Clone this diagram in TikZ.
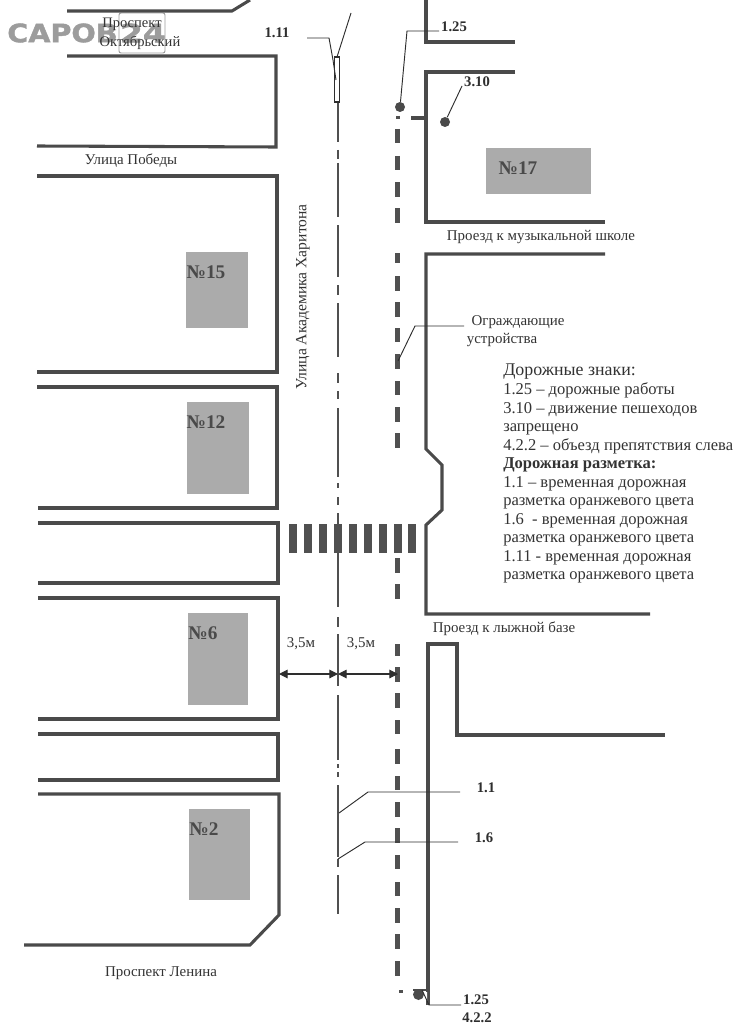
\documentclass[tikz,border=0pt]{standalone}
\usepackage{fontspec}
\setmainfont{Liberation Serif}
\newfontfamily\wmfont[BoldFeatures={FakeBold=1.6}]{DejaVu Sans}
\usetikzlibrary{arrows.meta}
\definecolor{wallc}{HTML}{4A4A4A}
\definecolor{inkc}{HTML}{2E2E2E}
\definecolor{textc}{HTML}{333333}
\definecolor{housec}{HTML}{ABABAB}
\definecolor{dashc}{HTML}{505050}
\definecolor{wmc}{HTML}{9C9C9C}
\tikzset{
  wall/.style={draw=wallc,line width=2.3pt,line join=miter},
  fence/.style={draw=dashc,line width=3.1pt},
  cline/.style={draw=dashc,line width=0.9pt},
  cdash/.style={draw=dashc,line width=1.9pt},
  leader/.style={draw=inkc,line width=0.7pt},
  zebra/.style={fill=dashc,draw=none},
  house/.style={fill=housec,draw=none},
  hlabel/.style={font=\bfseries\fontsize{14.5}{16}\selectfont,text=wallc,inner sep=0pt},
  smalltxt/.style={font=\fontsize{11.2}{13}\selectfont,text=textc,inner sep=0pt,yshift=-1.1pt},
  tag/.style={font=\bfseries\fontsize{11}{12}\selectfont,text=inkc,inner sep=0pt},
  signdot/.style={fill=wallc,draw=none,circle,minimum size=7.5pt,inner sep=0pt},
  dim/.style={draw=inkc,line width=0.8pt,{Triangle[length=6.5pt,width=6.5pt]}-{Triangle[length=6.5pt,width=6.5pt]}}
}
\begin{document}
\begin{tikzpicture}[x=0.75pt,y=-0.75pt]
\useasboundingbox (0,0) rectangle (746,1027);
\fill[white] (0,0) rectangle (746,1027);
% watermark
\node[inner sep=0pt,text=wmc,anchor=west,font=\wmfont\bfseries\fontsize{19}{20}\selectfont,xscale=1.13] (wm) at (7,33) {CAPOB};
\node[inner sep=0pt,text=wmc,anchor=center,font=\wmfont\bfseries\fontsize{19}{20}\selectfont,xscale=1.3] (wmn) at (143,33) {24};
\draw[wmc,line width=0.7pt,rounded corners=1.5pt] (119,13) rectangle (165,53);
% houses
\fill[house] (486,148) rectangle (591,194);
\fill[house] (186,252) rectangle (248,328);
\fill[house] (187,402) rectangle (249,494);
\fill[house] (188,613) rectangle (248,705);
\fill[house] (189,809) rectangle (250,900);
\node[hlabel] (h17) at (518,168) {№17};
\node[hlabel] (h15) at (206,272) {№15};
\node[hlabel] (h12) at (206,422) {№12};
\node[hlabel] (h6) at (203,633) {№6};
\node[hlabel] (h2) at (204,829) {№2};
% left walls
\draw[wall] (67,11) -- (232,11) -- (250,0);
\draw[wall] (67,56) -- (276,56) -- (276,147) -- (37,146);
\draw[wall] (37,176) -- (277,176) -- (277,372) -- (37,372);
\draw[wall] (37,387) -- (277,387) -- (277,508) -- (38,508);
\draw[wall] (38,523) -- (278,523) -- (278,583) -- (38,583);
\draw[wall] (38,598) -- (278,598) -- (278,719) -- (38,719);
\draw[wall] (38,734) -- (278,734) -- (278,780) -- (38,780);
\draw[wall] (38,794) -- (279,794) -- (279,915) -- (250,945) -- (24,945);
% right walls
\draw[wall] (426,0) -- (426,42) -- (515,42);
\draw[wall] (515,72) -- (426,72) -- (426,222) -- (605,222);
\draw[wall] (411,118) -- (426,118);
\draw[wall] (605,254) -- (426,254) -- (426,449) -- (442,465) -- (442,510) -- (426,525) -- (426,614) -- (650,614);
\draw[wall] (428,1005) -- (428,644) -- (457,644) -- (457,735) -- (665,735);
% centre line
\foreach \a/\b in {102/142,163/217,225/277,303/357,408/477,513/607,634/677,695/760,785/857,875/914}
  \draw[cline] (338,\a) -- (338,\b);
\foreach \a/\b in {150/159,225/235,285/295,373/383,391/399,483/488,497/505,513/520,617/627,677/686,695/708,764/768,772/777,859/867,875/883}
  \draw[cdash] (338,\a) -- (338,\b);
\draw[draw=inkc,line width=0.8pt,fill=white] (334.5,57) rectangle (339.5,102);
% fence dashes
\foreach \a/\b in {129/143,156/170,182/197,208/223,253/263,276/291,302/317,328/342,354/369,381/395,407/422,433/448,558/573,584/599,644/656,667/682,693/708,720/734,749/764,776/790,802/817,828/843,855/869,882/896,908/923,934/949,961/976}
  \draw[fence] (397.5,\a) -- (397.5,\b);
\draw[fence] (398,116) -- (398,119);
\draw[fence] (401,990) -- (401,993);
% crosswalk
\foreach \x in {289,304,319,334,349,364,379,394,408}
  \fill[zebra] (\x,524) rectangle (\x+8,553);
% dimensions
\coordinate (dl) at (279,674);
\coordinate (dc) at (338,674);
\coordinate (dr) at (398,674);
\draw[dim] (dl) -- (dc);
\draw[dim] (dc) -- (dr);
\node[smalltxt] (d1) at (301,642) {3,5м};
\node[smalltxt] (d2) at (361,642) {3,5м};
% signs
\node[signdot] (s125) at (400,107) {};
\node[signdot] (s310) at (445,122) {};
\node[tag] (t125) at (454,27) {1.25};
\node[tag] (t310) at (477,82) {3.10};
\coordinate (j125) at (407,31);
\draw[leader] (s125) -- (j125) -- (439,31);
\draw[leader] (s310) -- (462,86);
\node[tag] (t111) at (277,33) {1.11};
\coordinate (j111) at (329,38);
\draw[leader] (307,38) -- (j111) -- (333,60) -- (336,80);
\draw[leader] (351,13) -- (337,57);
% fence leader
\node[smalltxt] (og1) at (518,321) {Ограждающие};
\node[smalltxt] (og2) at (502,339) {устройства};
\draw[leader] (398,361) -- (415,326) -- (464,326);
% marking leaders
\node[tag] (t11) at (486,788) {1.1};
\node[tag] (t16) at (484,838) {1.6};
\draw[leader] (339,813) -- (368,792) -- (460,792);
\draw[leader] (338,859) -- (365,842) -- (458,842);
% bottom signs
\fill[wallc] (413,988.5) rectangle (428,991);
\fill[wallc] (418.5,994.5) circle (5.5);
\fill[white] (424,992) -- (427,992) -- (427,1001) -- cycle;
\draw[leader] (422,990) -- (429,1005) -- (461,1005);
\node[tag] (tb1) at (476,1000) {1.25};
\node[tag] (tb2) at (477,1018) {4.2.2};
% street labels
\node[smalltxt,font=\fontsize{10.9}{13}\selectfont] (p1) at (132,23) {Проспект};
\node[smalltxt,font=\fontsize{10.9}{13}\selectfont] (p2) at (140,41) {Октябрьский};
\node[smalltxt] (pob) at (131,159) {Улица Победы};
\node[smalltxt] (muz) at (541,236) {Проезд к музыкальной школе};
\node[smalltxt] (lyzh) at (504,627) {Проезд к лыжной базе};
\node[smalltxt] (len) at (161,972) {Проспект Ленина};
\node[smalltxt,rotate=90,font=\fontsize{11.7}{13}\selectfont,xshift=1.1pt] (har) at (303,297) {Улица Академика Харитона};
% legend
\node[anchor=north west,inner sep=0pt,text=textc,align=left,
      font=\fontsize{12.4}{13.9}\selectfont] (legend) at (503,364)
 {\fontsize{13.4}{13.9}\selectfont Дорожные знаки:\\
  1.25 – дорожные работы\\
  3.10 – движение пешеходов\\
  запрещено\\
  4.2.2 – объезд препятствия слева\\
  \textbf{Дорожная разметка:}\\
  1.1 – временная дорожная\\
  разметка оранжевого цвета\\
  1.6\ \ - временная дорожная\\
  разметка оранжевого цвета\\
  1.11 - временная дорожная\\
  разметка оранжевого цвета};
\end{tikzpicture}
\end{document}
